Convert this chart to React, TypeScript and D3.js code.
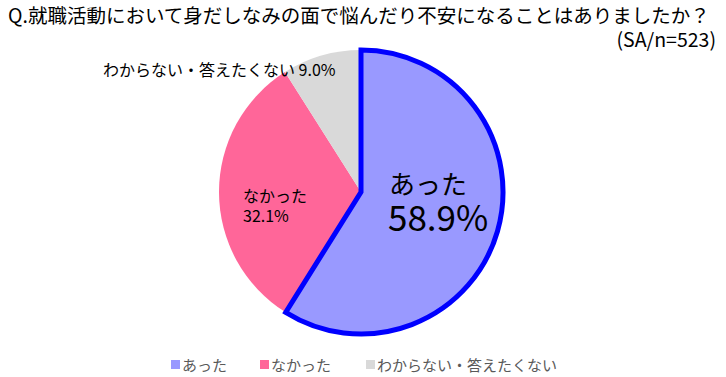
import React from "react";
import * as d3 from "d3";

const categories = ["あった", "なかった", "わからない・答えたくない"];
const values = [58.9, 32.1, 9.0];
const colors = ["#9999ff", "#ff6699", "#d9d9d9"];
const title = "Q.就職活動において身だしなみの面で悩んだり不安になることはありましたか？";
const subtitle = "(SA/n=523)";

const W = 726;
const H = 377;
const FONT = "'Noto Sans CJK JP', 'Noto Sans', sans-serif";

export default function App() {
  const cx = 361;
  const cy = 192;
  const r = 142;
  const pie = d3.pie<number>().sort(null).value((d) => d);
  const arcs = pie(values);
  const arc = d3.arc<d3.PieArcDatum<number>>().innerRadius(0).outerRadius(r);
  const legendX = [171, 260, 366];
  return (
    <svg width={W} height={H} style={{ position: "absolute", left: 0, top: 0, fontFamily: FONT }}>
      <rect width={W} height={H} fill="#fff" />
      <text x={8} y={22.5} fontSize={19.5} fill="#000">{title}</text>
      <text x={716} y={47} fontSize={19.5} fill="#000" textAnchor="end">{subtitle}</text>
      <g transform={`translate(${cx},${cy})`}>
        {arcs.map((a, i) => (
          <path key={i} d={arc(a) || ""} fill={colors[i]} />
        ))}
        <path d={arc(arcs[0]) || ""} fill="none" stroke="#0000ff" strokeWidth={5} strokeLinejoin="miter" />
      </g>
      <text x={103} y={76} fontSize={16} fill="#000">{categories[2]} {values[2].toFixed(1)}%</text>
      <text x={243} y={202} fontSize={16} fill="#000">{categories[1]}</text>
      <text x={243} y={222} fontSize={16} fill="#000">{values[1].toFixed(1)}%</text>
      <text x={389} y={194} fontSize={26} fill="#000">{categories[0]}</text>
      <text x={388} y={231} fontSize={35} fill="#000">{values[0].toFixed(1)}%</text>
      {categories.map((c, i) => (
        <g key={c} transform={`translate(${legendX[i]},360)`}>
          <rect x={0} y={0} width={9} height={9} fill={colors[i]} />
          <text x={11} y={10.5} fontSize={15} fill="#595959">{c}</text>
        </g>
      ))}
    </svg>
  );
}
